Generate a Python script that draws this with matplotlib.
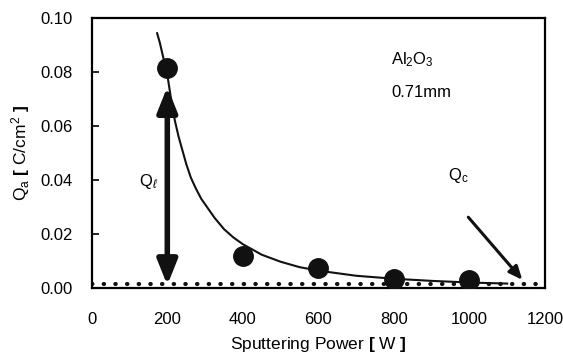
import matplotlib.pyplot as plt

plt.rcParams['font.family'] = ['Liberation Sans', 'DejaVu Sans']
plt.rcParams['mathtext.fontset'] = 'custom'
plt.rcParams['mathtext.rm'] = 'Liberation Sans'
plt.rcParams['mathtext.it'] = 'Liberation Sans:italic'
plt.rcParams['mathtext.bf'] = 'Liberation Sans:bold'

# measured points
power = [200, 400, 600, 800, 1000]
qa = [0.0815, 0.012, 0.0072, 0.0032, 0.0028]

# fitted curve
curve_x = [173, 180, 190, 200, 210, 220, 230, 240, 250, 262, 275, 290, 300,
           325, 350, 375, 400, 450, 500, 550, 600, 700, 800, 900, 1000, 1100]
curve_y = [0.0944, 0.091, 0.085, 0.079, 0.070, 0.062, 0.056, 0.051, 0.046,
           0.041, 0.037, 0.033, 0.031, 0.026, 0.0218, 0.0187, 0.0162,
           0.0123, 0.0097, 0.0077, 0.0064, 0.0045, 0.0034, 0.0026, 0.002,
           0.0016]

# Qc level (dotted)
qc_x = [0, 1200]
qc_y = [0.0015, 0.0015]

fig = plt.figure(figsize=(5.63, 3.55), dpi=100)
ax = fig.add_axes([0.163, 0.189, 0.805, 0.760])

ax.plot(qc_x, qc_y, color='#111111', lw=3.0, ls=(0, (0.1, 2.7)),
        dash_capstyle='round', zorder=2)
ax.plot(curve_x, curve_y, color='#111111', lw=1.5, zorder=3)
ax.plot(power, qa, 'o', color='#111111', ms=14, zorder=4)

# Q_l double arrow
ax.annotate('', xy=(200, 0.0745), xytext=(200, 0.0010),
            arrowprops=dict(arrowstyle='<|-|>,head_length=1.5,head_width=0.6',
                            color='#111111', lw=4, shrinkA=0, shrinkB=0),
            zorder=5)
ax.text(150, 0.0395, r'Q$_{\ell}$', fontsize=12, ha='center', va='center')

# Q_c arrow
ax.annotate('', xy=(1140, 0.0030), xytext=(997, 0.0262),
            arrowprops=dict(arrowstyle='-|>,head_length=0.8,head_width=0.35',
                            color='#111111', lw=2.2, shrinkA=0, shrinkB=0))
ax.text(970, 0.0415, r'Q$_\mathrm{c}$', fontsize=12, ha='center', va='center')

ax.text(792, 0.0845, r'Al$_2$O$_3$', fontsize=12, ha='left', va='center')
ax.text(792, 0.0725, '0.71mm', fontsize=12, ha='left', va='center')

ax.set_xlim(0, 1200)
ax.set_ylim(0, 0.10)
ax.set_xticks([0, 200, 400, 600, 800, 1000, 1200])
ax.set_yticks([0.0, 0.02, 0.04, 0.06, 0.08, 0.10])
ax.set_yticklabels(['0.00', '0.02', '0.04', '0.06', '0.08', '0.10'])
ax.tick_params(direction='in', labelsize=12, length=5, width=1.2, pad=14,
               top=False, right=False)
ax.tick_params(axis='x', length=0, pad=17)
for s in ax.spines.values():
    s.set_linewidth(1.6)

ax.set_xlabel(r'Sputtering Power $\mathbf{[}$ W $\mathbf{]}$', fontsize=12.5,
              labelpad=6)
ax.set_ylabel(r'Q$_\mathrm{a}$ $\mathbf{[}$ C/cm$^2$ $\mathbf{]}$',
              fontsize=12.5, labelpad=6)

fig.savefig('out.png', dpi=100)
